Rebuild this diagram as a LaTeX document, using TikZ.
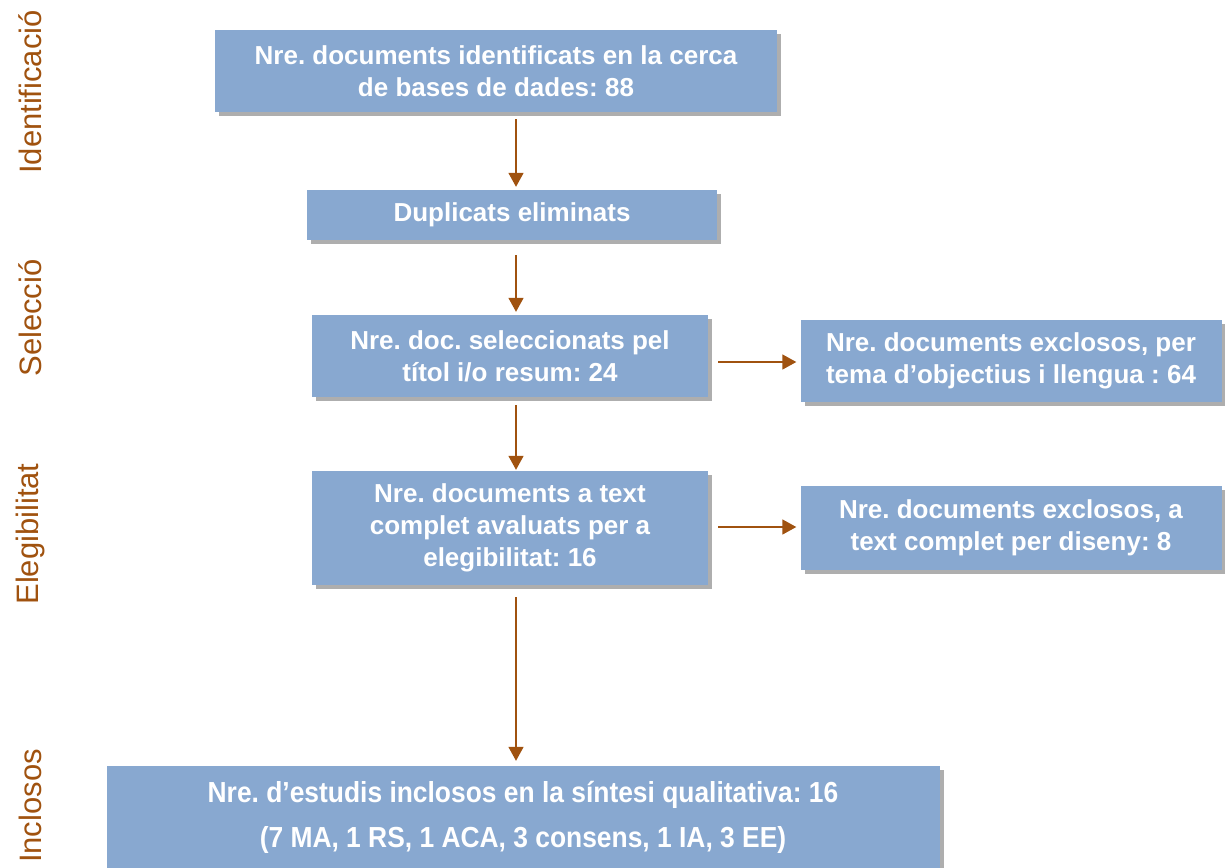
\documentclass[tikz,border=0pt]{standalone}
\usepackage{fontspec}
\setmainfont{Liberation Sans}
\frenchspacing
\usetikzlibrary{shadows,arrows.meta}
\definecolor{boxblue}{HTML}{88A8D0}
\definecolor{brn}{HTML}{A0520F}
\begin{document}
\begin{tikzpicture}[x=1pt,y=-1pt,
  box/.style={fill=boxblue, draw=none, text=white, font=\bfseries\fontsize{26}{32}\selectfont, align=center, inner sep=0pt,
    drop shadow={shadow xshift=4pt, shadow yshift=-4pt, fill=black!45, opacity=0.7}},
  arr/.style={draw=brn, line width=1.6pt, -{Triangle[length=14pt,width=15pt]}},
  side/.style={text=brn, rotate=90, font=\fontsize{31}{34}\selectfont}
]
\useasboundingbox (0,0) rectangle (1225,867);
\node[box, minimum width=562, minimum height=82] (b1) at (496,71) {Nre. documents identificats en la cerca\\de bases de dades: 88};
\node[box, minimum width=410, minimum height=50] (b2) at (512,215) {Duplicats eliminats};
\node[box, minimum width=396, minimum height=82] (b3) at (510,356) {Nre. doc. seleccionats pel\\títol i/o resum: 24};
\node[box, minimum width=421, minimum height=82] (b4) at (1011,361) {Nre. documents exclosos, per\\tema d’objectius i llengua : 64};
\node[box, minimum width=396, minimum height=114] (b5) at (510,528) {Nre. documents a text\\complet avaluats per a\\elegibilitat: 16};
\node[box, minimum width=421, minimum height=84] (b6) at (1011,528) {Nre. documents exclosos, a\\text complet per diseny: 8};
\node[box, minimum width=833, minimum height=102, font=\bfseries\fontsize{29}{45}\selectfont] (b7) at (523,817) {\scalebox{0.91}[1]{Nre. d’estudis inclosos en la síntesi qualitativa: 16}\\\scalebox{0.91}[1]{(7 MA, 1 RS, 1 ACA, 3 consens, 1 IA, 3 EE)}};

\coordinate (a1s) at (516,119);
\coordinate (a2s) at (516,255);
\coordinate (a3s) at (516,405);
\coordinate (a4s) at (516,597);
\coordinate (h1s) at (718,362);
\coordinate (h2s) at (718,527);
\draw[arr] (a1s) -- ([yshift=3pt]a1s |- b2.north);
\draw[arr] (a2s) -- ([yshift=3pt]a2s |- b3.north);
\draw[arr] (a3s) -- ([yshift=1pt]a3s |- b5.north);
\draw[arr] (a4s) -- ([yshift=5pt]a4s |- b7.north);
\draw[arr] (h1s) -- ([xshift=-4pt]h1s -| b4.west);
\draw[arr] (h2s) -- ([xshift=-4pt]h2s -| b6.west);

\node[side] (s1) at (30,92) {Identificació};
\node[side] (s2) at (30,318) {Selecció};
\node[side] (s3) at (30,534) {Elegibilitat};
\node[side] (s4) at (30,806) {Inclosos};
\end{tikzpicture}
\end{document}
